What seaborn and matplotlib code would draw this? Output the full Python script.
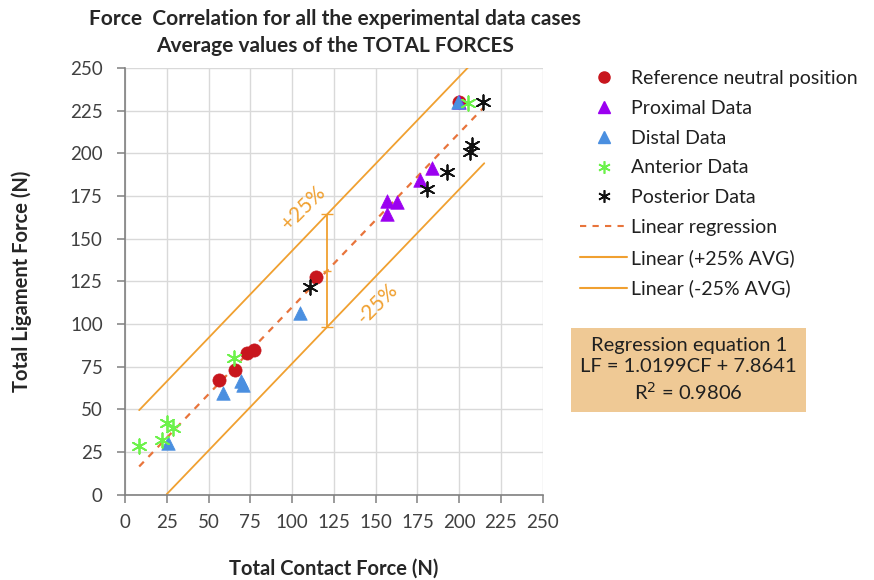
import numpy as np
import pandas as pd
import matplotlib
matplotlib.use("Agg")
import matplotlib.pyplot as plt
from matplotlib.lines import Line2D
import seaborn as sns

# ---- data ----
ref_x = [56, 66, 73, 77, 114.5, 200]
ref_y = [67, 73, 83, 84.5, 127.5, 230]
prox_x = [157, 163, 157, 176.5, 184, 200]
prox_y = [172, 171.5, 164.5, 184.5, 191.5, 230]
dist_x = [25.5, 58.5, 69.5, 70.5, 104.5, 199.5]
dist_y = [30.5, 59.5, 66.5, 64.5, 106.5, 230]
ant_x = [8.5, 22, 25, 28.5, 65.5, 205.5]
ant_y = [28.5, 32, 42, 39, 80, 229.5]
post_x = [110.5, 180.5, 192.5, 207.5, 206.5, 214.5]
post_y = [121.5, 179, 189, 205, 201, 230]

slope, intercept = 1.0199, 7.8641
band = 33.0
reg_x = [8.5, 214.5]
up_x = [8.5, 206.5]
lo_x = [25.0, 215.0]
err_x = 121.0

xticks = list(range(0, 251, 25))
yticks = list(range(0, 251, 25))

sns.set_style("whitegrid")
font = "Lato"
plt.rcParams["font.family"] = [font, "DejaVu Sans"]

fig = plt.figure(figsize=(8.74, 5.8), dpi=100)
ax = fig.add_axes([0.143, 0.147, 0.478, 0.736])

orange = "#F0A030"
regc = "#E8743B"

reg_df = pd.DataFrame({"x": reg_x, "y": [slope * v + intercept for v in reg_x]})
up_df = pd.DataFrame({"x": up_x, "y": [slope * v + intercept + band for v in up_x]})
lo_df = pd.DataFrame({"x": lo_x, "y": [slope * v + intercept - band for v in lo_x]})

sns.lineplot(data=up_df, x="x", y="y", ax=ax, color=orange, lw=1.3)
sns.lineplot(data=lo_df, x="x", y="y", ax=ax, color=orange, lw=1.3)
sns.lineplot(data=reg_df, x="x", y="y", ax=ax, color=regc, lw=1.6)
ax.lines[-1].set_dashes([3, 3])

ym = slope * err_x + intercept
ax.errorbar([err_x], [ym], yerr=[[band], [band]], color=orange, capsize=4, lw=1.3,
            marker="_", ms=6)

ast = (6, 2, 0)
sns.scatterplot(x=ref_x, y=ref_y, ax=ax, color="#C8161D", s=90, marker="o", edgecolor="#C8161D", linewidth=0.5, zorder=4)
sns.scatterplot(x=prox_x, y=prox_y, ax=ax, color="#9B00F0", s=95, marker="^", edgecolor="#9B00F0", linewidth=0.5, zorder=4)
sns.scatterplot(x=dist_x, y=dist_y, ax=ax, color="#4A8FE0", s=95, marker="^", edgecolor="#4A8FE0", linewidth=0.5, zorder=4)
sns.scatterplot(x=ant_x, y=ant_y, ax=ax, color="#6CF24A", s=110, marker=ast, linewidth=1.3, zorder=4)
sns.scatterplot(x=post_x, y=post_y, ax=ax, color="#111111", s=110, marker=ast, linewidth=1.3, zorder=4)

ax.text(107, 168, "+25%", color=orange, fontsize=15, rotation=45,
        ha="center", va="center")
ax.text(151, 112, "-25%", color=orange, fontsize=15, rotation=45,
        ha="center", va="center")

ax.set_xlim(0, 250)
ax.set_ylim(0, 250)
ax.set_xticks(xticks)
ax.set_yticks(yticks)
ax.tick_params(labelsize=13.5, labelcolor="#404040", color="#808080", length=6, width=1.1,
               direction="out", bottom=True, left=True)
ax.tick_params(axis="y", pad=10)
ax.tick_params(axis="x", pad=8)
ax.grid(True, color="#D9D9D9", lw=1)
for s in ["top", "right"]:
    ax.spines[s].set_visible(False)
for s in ["left", "bottom"]:
    ax.spines[s].set_color("#808080")
    ax.spines[s].set_linewidth(1.2)
ax.set_xlabel("Total Contact Force (N)", fontsize=14.5, fontweight="bold", labelpad=20)
ax.set_ylabel("Total Ligament Force (N)", fontsize=14.5, fontweight="bold", labelpad=27)

fig.text(0.383, 0.967, "Force  Correlation for all the experimental data cases", ha="center",
         va="center", fontsize=15, fontweight="bold")
fig.text(0.383, 0.920, "Average values of the TOTAL FORCES", ha="center",
         va="center", fontsize=15, fontweight="bold")

handles = [
    Line2D([], [], ls="none", marker="o", color="#C8161D", ms=8),
    Line2D([], [], ls="none", marker="^", color="#9B00F0", ms=8),
    Line2D([], [], ls="none", marker="^", color="#4A8FE0", ms=8),
    Line2D([], [], ls="none", marker=ast, color="#6CF24A", ms=9, mew=1.2),
    Line2D([], [], ls="none", marker=ast, color="#111111", ms=9, mew=1.2),
    Line2D([], [], color=regc, lw=1.5, dashes=[3, 3]),
    Line2D([], [], color=orange, lw=1.5),
    Line2D([], [], color=orange, lw=1.5),
]
labels = ["Reference neutral position", "Proximal Data", "Distal Data", "Anterior Data",
          "Posterior Data", "Linear regression", "Linear (+25% AVG)", "Linear (-25% AVG)"]
fig.legend(handles, labels, loc="upper left", bbox_to_anchor=(0.655, 0.893), frameon=False,
           fontsize=14, labelspacing=0.66, handlelength=2.4, handletextpad=0.2,
           borderaxespad=0, labelcolor="#202020")

fig.text(0.788, 0.362, "Regression equation 1\nLF = 1.0199CF + 7.8641\nR$^2$ = 0.9806",
         ha="center", va="center", fontsize=14.5, linespacing=1.3, color="#202020",
         bbox=dict(boxstyle="square,pad=0.45", facecolor="#EFC995", edgecolor="none"))

fig.savefig("out.png", dpi=100)
